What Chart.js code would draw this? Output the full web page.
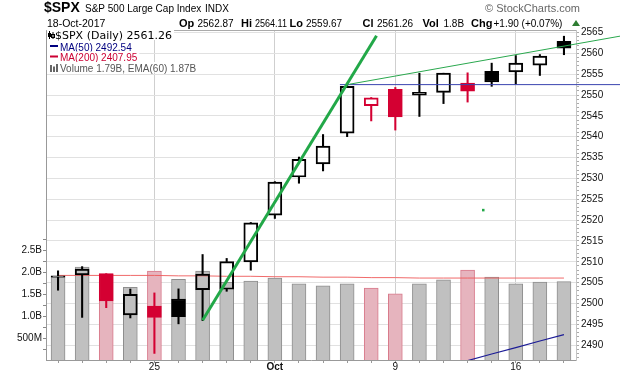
<!DOCTYPE html>
<html>
<head>
<meta charset="utf-8">
<script src="https://cdn.jsdelivr.net/npm/chart.js@4"></script>
<style>
  html, body { margin: 0; padding: 0; background: #fff; }
  #wrap { position: relative; width: 620px; height: 376px; }
</style>
</head>
<body>
<div id="wrap"><canvas id="spx" width="620" height="376"></canvas></div>
<script>
// $SPX daily bars, 19-Sep-2017 .. 18-Oct-2017
const dayLabels = ["", "", "", "", "25", "", "", "", "", "Oct", "", "", "", "", "9", "", "", "", "", "16", "", ""];
const opens  = [2506.29, 2506.84, 2507.16, 2497.26, 2499.39, 2501.04, 2503.30, 2503.41, 2509.96, 2521.20, 2530.34, 2533.48, 2540.86, 2547.44, 2551.39, 2549.99, 2550.62, 2552.88, 2555.66, 2555.57, 2557.17, 2562.87];
const highs  = [2507.84, 2508.85, 2507.16, 2503.47, 2502.54, 2503.51, 2511.75, 2510.81, 2519.44, 2529.23, 2535.13, 2540.53, 2552.51, 2549.41, 2551.82, 2555.23, 2555.24, 2555.33, 2557.65, 2559.47, 2559.71, 2564.11];
const lows   = [2503.19, 2496.67, 2499.00, 2496.54, 2488.03, 2495.12, 2495.91, 2502.93, 2507.99, 2520.40, 2528.85, 2531.80, 2540.02, 2543.79, 2541.60, 2544.86, 2547.95, 2548.31, 2552.09, 2552.64, 2554.69, 2559.67];
const closes = [2506.65, 2508.24, 2500.60, 2502.22, 2496.66, 2496.84, 2507.04, 2510.06, 2519.36, 2529.12, 2534.58, 2537.74, 2552.07, 2549.33, 2544.73, 2550.64, 2555.24, 2550.93, 2553.17, 2557.64, 2559.36, 2561.26];

// volume in billions + its EMA(60)
const volumes = [1.89, 2.12, 1.96, 1.66, 2.03, 1.84, 2.03, 1.77, 1.80, 1.87, 1.74, 1.69, 1.74, 1.64, 1.51, 1.74, 1.83, 2.05, 1.89, 1.74, 1.78, 1.79];
const volEma  = [1.93, 1.93, 1.93, 1.93, 1.93, 1.92, 1.92, 1.91, 1.91, 1.90, 1.90, 1.89, 1.89, 1.88, 1.88, 1.87, 1.87, 1.87, 1.87, 1.87, 1.87, 1.87];

// MA(50), only the tail reaches into the window
const ma50 = [null, null, null, null, null, null, null, null, null, null, null, null, null, null, null, null, 2484.8, 2486.3, 2487.9, 2489.4, 2491.0, 2492.54];
const ma200Last = 2407.95;

// hand drawn annotations (x = bar index)
const steepX = [6, 13.22],  steepY = [2496.0, 2564.2];
const flatX  = [12.1, 23.4], flatY  = [2552.6, 2564.2];
const levelX = [11.7, 23.4], levelY = [2552.5, 2552.5];
const markX  = [17.65],      markY  = [2522.4];

// axes
const priceMin = 2486.45, priceMax = 2565.6;
const volMax = 7.53;
const volTicks = [0.5, 1.0, 1.5, 2.0, 2.5];
const volTickLabels = ["500M", "1.0B", "1.5B", "2.0B", "2.5B"];

const SANS = '"Liberation Sans", Arial, sans-serif';
const WIDE = '"DejaVu Sans", Verdana, sans-serif';
const RED = "#d40032";

const n = closes.length;
const idx = closes.map((_, i) => i);
const isDown = idx.map(i => closes[i] < (i > 0 ? closes[i - 1] : opens[i]));
const isHollow = idx.map(i => closes[i] > opens[i]);
const candleColor = idx.map(i => isDown[i] ? RED : "#000");

const pts = (xs, ys) => xs.map((x, i) => ({ x: x, y: ys[i] }));

Chart.defaults.font.family = SANS;
Chart.defaults.font.size = 10;
Chart.defaults.color = "#222";

// frame top, title rows and the in-chart legend
const frameAndText = {
  id: "frameAndText",
  afterDraw(chart) {
    const ctx = chart.ctx;
    const area = chart.chartArea;
    const last = n - 1;
    ctx.save();

    ctx.strokeStyle = "#aaa";
    ctx.lineWidth = 1;
    ctx.beginPath();
    ctx.moveTo(area.left, area.top + 0.5);
    ctx.lineTo(area.right, area.top + 0.5);
    ctx.stroke();

    // row 1
    ctx.textBaseline = "alphabetic";
    ctx.fillStyle = "#000";
    ctx.font = "bold 14px " + SANS;
    ctx.fillText("$SPX", 44, 12);
    ctx.font = "10px " + SANS;
    ctx.fillText("S&P 500 Large Cap Index", 85, 12);
    ctx.fillText("INDX", 205, 12);
    ctx.fillStyle = "#666";
    ctx.font = "11px " + SANS;
    ctx.textAlign = "right";
    ctx.fillText("\u00A9 StockCharts.com", 580, 12);
    ctx.textAlign = "left";

    // row 2
    const chg = closes[last] - closes[last - 1];
    const pct = chg / closes[last - 1] * 100;
    ctx.fillStyle = "#000";
    ctx.font = "10.5px " + SANS;
    ctx.fillText("18-Oct-2017", 47, 27);
    const quote = [
      ["Op", opens[last].toFixed(2), 179, 197.5],
      ["Hi", highs[last].toFixed(2), 241, 255],
      ["Lo", lows[last].toFixed(2), 289.5, 306],
      ["Cl", closes[last].toFixed(2), 362.5, 377],
      ["Vol", volumes[last].toFixed(1) + "B", 422.5, 443.5],
      ["Chg", "+" + chg.toFixed(2) + " (+" + pct.toFixed(2) + "%)", 471, 493.5]
    ];
    quote.forEach((q, k) => {
      const nextX = k + 1 < quote.length ? quote[k + 1][2] : 571;
      ctx.font = "bold 11px " + SANS;
      ctx.fillText(q[0], q[2], 27);
      ctx.font = "10px " + SANS;
      ctx.fillText(q[1], q[3], 27, nextX - q[3] - 2.5);
    });
    ctx.fillStyle = "#2e7d32";
    ctx.beginPath();
    ctx.moveTo(572, 26); ctx.lineTo(580, 26); ctx.lineTo(576, 20); ctx.closePath();
    ctx.fill();

    // legend lines
    const rows = [
      { text: "$SPX (Daily) " + closes[last].toFixed(2), color: "#000", font: "11px " + WIDE, x: 55, base: 39 },
      { text: "MA(50) " + ma50[last].toFixed(2), color: "#000080", font: "10px " + SANS, x: 60, base: 50.5 },
      { text: "MA(200) " + ma200Last.toFixed(2), color: "#cc0033", font: "10px " + SANS, x: 60, base: 61 },
      { text: "Volume " + volumes[last].toFixed(2) + "B, EMA(60) " + volEma[last].toFixed(2) + "B", color: "#555", font: "10px " + SANS, x: 60, base: 71.5 }
    ];
    rows.forEach(r => {
      ctx.font = r.font;
      const w = ctx.measureText(r.text).width;
      ctx.fillStyle = "#fff";
      ctx.fillRect(area.left + 1, r.base - 9.5, r.x + w + 2 - area.left - 1, 10.5);
      ctx.fillStyle = r.color;
      ctx.fillText(r.text, r.x, r.base);
    });
    // legend icons
    ctx.fillStyle = "#000";
    ctx.fillRect(49, 31, 1, 8);
    ctx.fillRect(48, 33, 3, 4);
    ctx.fillRect(52.5, 32, 1, 7);
    ctx.strokeStyle = "#000";
    ctx.strokeRect(51.5, 34.5, 3, 3);
    ctx.fillStyle = "#000080";
    ctx.fillRect(50, 45, 8, 2);
    ctx.fillStyle = "#cc0033";
    ctx.fillRect(50, 55.5, 8, 2);
    ctx.fillStyle = "#666";
    ctx.fillRect(50, 65, 2, 7);
    ctx.fillRect(53, 66.5, 2, 5.5);
    ctx.fillRect(56, 64, 2, 8);

    ctx.restore();
  }
};

const datasets = [
  {
    type: "bar", label: "Volume", yAxisID: "vol", order: 10, grouped: false,
    data: pts(idx, volumes),
    barThickness: 14,
    backgroundColor: idx.map(i => isDown[i] ? "#e6b4be" : "#c0c0c0"),
    borderColor: idx.map(i => isDown[i] ? "#d87a8b" : "#8e8e8e"),
    borderWidth: 1
  },
  {
    type: "line", label: "EMA(60)", yAxisID: "vol", order: 9,
    data: pts(idx, volEma),
    borderColor: "rgba(238, 90, 90, 0.9)", borderWidth: 1, pointRadius: 0
  },
  {
    type: "bar", label: "wick low", yAxisID: "y", order: 6, grouped: false,
    data: idx.map(i => ({ x: i, y: [lows[i], Math.min(opens[i], closes[i])] })),
    barThickness: 1.4, backgroundColor: candleColor, borderWidth: 0
  },
  {
    type: "bar", label: "wick high", yAxisID: "y", order: 6, grouped: false,
    data: idx.map(i => ({ x: i, y: [Math.max(opens[i], closes[i]), highs[i]] })),
    barThickness: 1.4, backgroundColor: candleColor, borderWidth: 0
  },
  {
    type: "bar", label: "body", yAxisID: "y", order: 5, grouped: false,
    data: idx.map(i => ({ x: i, y: [opens[i], closes[i]] })),
    barThickness: 14,
    backgroundColor: idx.map(i => isHollow[i] ? "rgba(0,0,0,0)" : candleColor[i]),
    borderColor: candleColor, borderWidth: 1.3, borderSkipped: false
  },
  {
    type: "line", label: "MA(50)", yAxisID: "y", order: 4,
    data: pts(idx, ma50),
    borderColor: "#1c1c96", borderWidth: 1.2, pointRadius: 0
  },
  {
    type: "line", label: "level", yAxisID: "y", order: 3, clip: false,
    data: pts(levelX, levelY),
    borderColor: "#3a44b0", borderWidth: 1, pointRadius: 0
  },
  {
    type: "line", label: "steep trend", yAxisID: "y", order: 2,
    data: pts(steepX, steepY),
    borderColor: "#22a848", borderWidth: 3, pointRadius: 0
  },
  {
    type: "line", label: "flat trend", yAxisID: "y", order: 2, clip: false,
    data: pts(flatX, flatY),
    borderColor: "#2aa84e", borderWidth: 1, pointRadius: 0
  },
  {
    type: "line", label: "mark", yAxisID: "y", order: 2, showLine: false,
    data: pts(markX, markY),
    pointStyle: "rect", pointRadius: 1.8, borderWidth: 0,
    backgroundColor: "#22a848", borderColor: "#22a848"
  }
];

new Chart(document.getElementById("spx"), {
  type: "bar",
  data: { datasets },
  plugins: [frameAndText],
  options: {
    responsive: false,
    animation: false,
    layout: { padding: { top: 30, left: 0, right: 0, bottom: 0 } },
    plugins: { legend: { display: false }, tooltip: { enabled: false } },
    scales: {
      x: {
        type: "linear", position: "bottom", min: -0.5, max: 21.5,
        offset: false,
        afterFit: s => { s.height = 16; },
        afterBuildTicks: s => { s.ticks = idx.map(i => ({ value: i })); },
        ticks: {
          autoSkip: false, maxRotation: 0, padding: -2, color: "#111",
          callback: v => dayLabels[v] || "",
          font: c => ({ size: 10, weight: c.tick && dayLabels[c.tick.value] === "Oct" ? "bold" : "normal" })
        },
        grid: {
          offset: false, tickLength: 3, tickColor: "#999",
          color: c => c.tick && dayLabels[c.tick.value] ? "#cfcfcf" : "rgba(0,0,0,0)"
        },
        border: { color: "#999" }
      },
      y: {
        type: "linear", position: "right", min: priceMin, max: priceMax,
        beginAtZero: false,
        afterFit: s => { s.width = 44; },
        afterBuildTicks: s => {
          const t = [];
          for (let v = Math.ceil(priceMin); v <= Math.floor(priceMax); v++) t.push({ value: v });
          s.ticks = t;
        },
        ticks: {
          autoSkip: false, padding: 2, color: "#111",
          callback: v => v % 5 === 0 ? String(v) : ""
        },
        grid: {
          tickLength: 3, tickColor: "#aaa",
          color: c => c.tick && c.tick.value % 5 === 0 ? "#e1e1e1" : "rgba(0,0,0,0)"
        },
        border: { color: "#c4c4c4" }
      },
      vol: {
        type: "linear", position: "left", min: 0, max: volMax,
        beginAtZero: true,
        afterFit: s => { s.width = 46; },
        afterBuildTicks: s => {
          const t = [];
          for (let v = 0.25; v <= 2.76; v += 0.25) t.push({ value: Math.round(v * 100) / 100 });
          s.ticks = t;
        },
        ticks: {
          autoSkip: false, padding: 1, color: "#111",
          callback: v => {
            const k = volTicks.indexOf(v);
            return k >= 0 ? volTickLabels[k] : "";
          }
        },
        grid: { drawOnChartArea: false, tickLength: 3, tickColor: "#888" },
        border: { color: "#999" }
      }
    }
  }
});
</script>
</body>
</html>
